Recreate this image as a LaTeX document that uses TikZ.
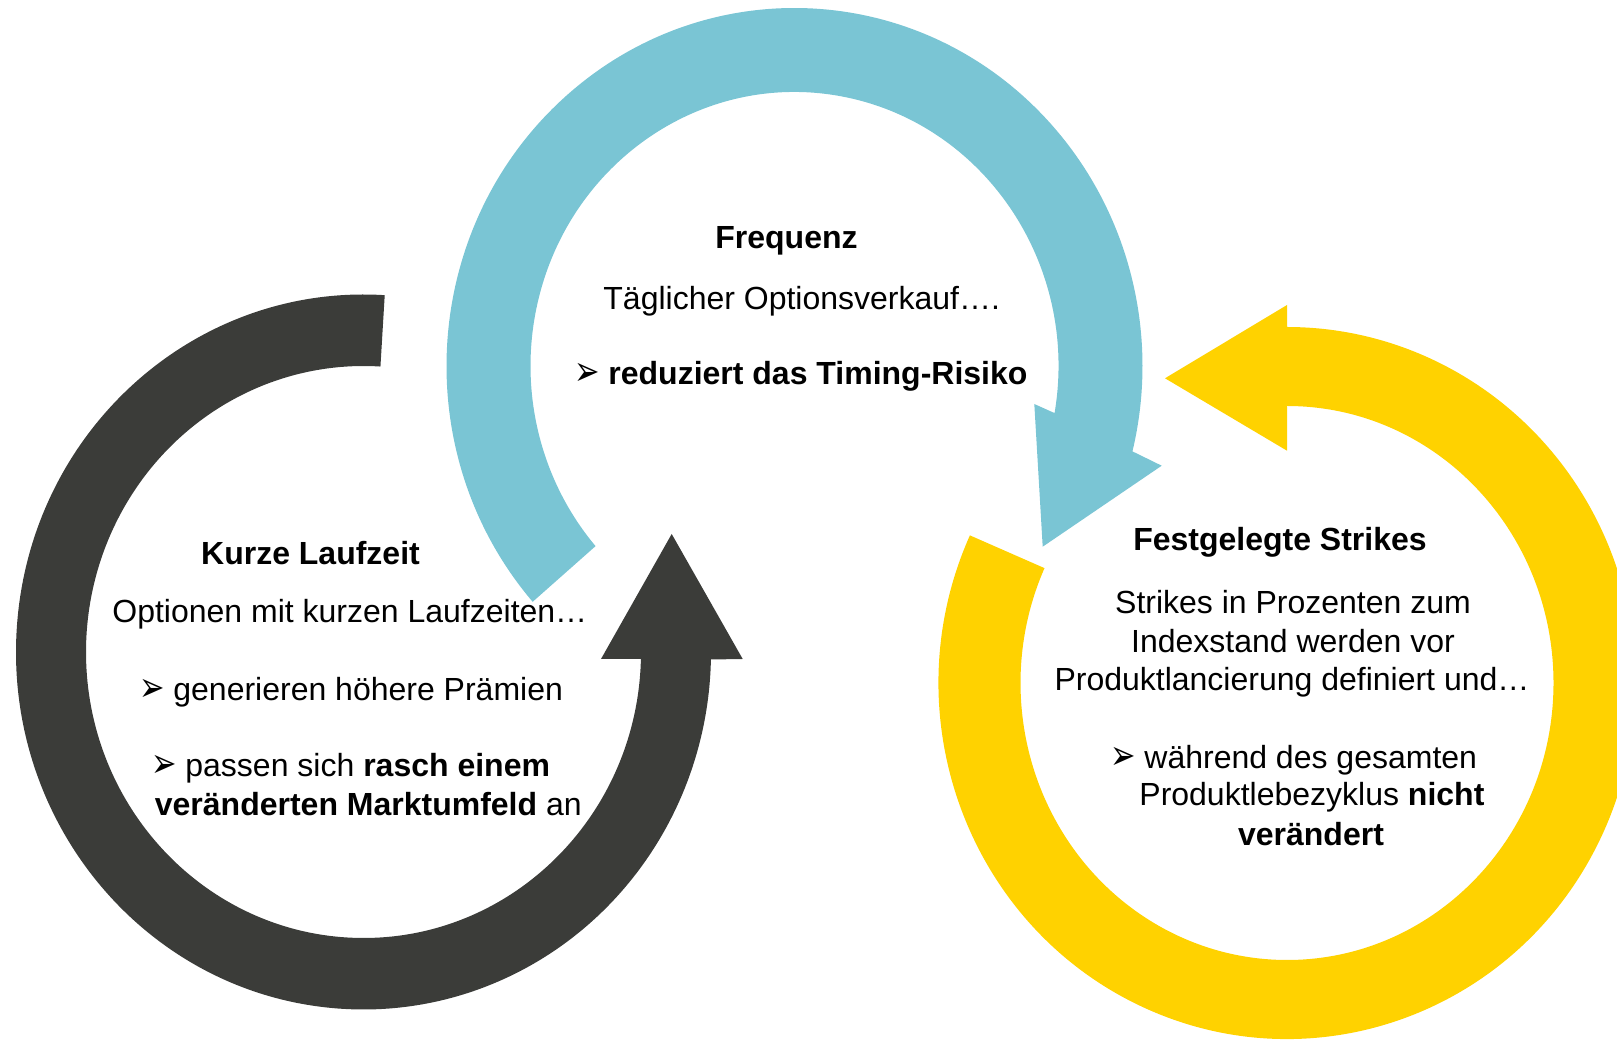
\documentclass[tikz,border=0pt]{standalone}
\usepackage{fontspec}
\setmainfont{Liberation Sans}
\newfontfamily\dejavu{DejaVu Sans}
\definecolor{ringdark}{RGB}{59,60,57}
\definecolor{ringblue}{RGB}{122,197,212}
\definecolor{ringyellow}{RGB}{255,210,0}
\newcommand\blt{\makebox[17pt][l]{\raisebox{-0.3pt}{\scalebox{0.95}[1.3]{\dejavu\char"27A2}}}}
\tikzset{
  txt/.style={inner sep=0pt, font=\fontsize{16pt}{19pt}\selectfont},
}
\begin{document}
\begin{tikzpicture}[x=0.5pt,y=0.5pt]
\useasboundingbox (0,0) rectangle (1617,1039);
\clip (0,0) rectangle (1617,1039);
% dark ring
\begin{scope}[shift={(363.5,387)}]
\fill[ringdark] (86.5:347.5 and 357.5) arc[start angle=86.5,end angle=358.8,x radius=347.5,y radius=357.5]
  -- (379.2,-7) -- (308.2,118) -- (237.5,-7)
  -- (358.6:277.5 and 286) arc[start angle=358.6,end angle=86.5,x radius=277.5,y radius=286] -- cycle;
\end{scope}
% blue ring
\begin{scope}[shift={(794.5,673)}]
\fill[ringblue] (221.2:348 and 358) arc[start angle=221.2,end angle=-13.8,x radius=348,y radius=358]
  -- (367.2,-99.7) -- (248.2,-180.7) -- (239.8,-38)
  -- (-9.9:264 and 274) arc[start angle=-9.9,end angle=221.1,x radius=264,y radius=274] -- cycle;
\end{scope}
% yellow ring
\begin{scope}[shift={(1287,356)}]
\fill[ringyellow] (155.5:348.5 and 356) arc[start angle=155.5,end angle=450,x radius=348.5,y radius=356]
  -- (0,378) -- (-122,304.7) -- (0,232.3)
  -- (90:266.5 and 277) arc[start angle=90,end angle=-204.5,x radius=266.5,y radius=277] -- cycle;
\end{scope}
% texts
\node[txt, anchor=base] (freq) at (786.5,790.5) {\textbf{Frequenz}};
\node[txt, anchor=base west] (tagl) at (603,729.5) {Täglicher Optionsverkauf….};
\node[txt, anchor=base west] (redu) at (574,654.3) {\blt\textbf{reduziert das Timing-Risiko}};
\node[txt, anchor=base] (kurz) at (310.5,474.5) {\textbf{Kurze Laufzeit}};
\node[txt, anchor=base west] (opt) at (112,416) {Optionen mit kurzen Laufzeiten…};
\node[txt, anchor=base west] (gen) at (139,338) {\blt generieren höhere Prämien};
\node[txt, anchor=base west] (pas) at (151,262) {\blt passen sich \textbf{rasch einem}};
\node[txt, anchor=base west] (ver) at (154.5,223.5) {\textbf{veränderten Marktumfeld} an};
\node[txt, anchor=base] (fest) at (1280,488.3) {\textbf{Festgelegte Strikes}};
\node[txt, anchor=base] (str1) at (1293,425.4) {Strikes in Prozenten zum};
\node[txt, anchor=base] (str2) at (1293,386.2) {Indexstand werden vor};
\node[txt, anchor=base] (str3) at (1292,348) {Produktlancierung definiert und…};
\node[txt, anchor=base west] (wah) at (1110,270) {\blt während des gesamten};
\node[txt, anchor=base west] (prod) at (1139,233) {Produktlebezyklus \textbf{nicht}};
\node[txt, anchor=base] (verd) at (1311,193.5) {\textbf{verändert}};
\end{tikzpicture}
\end{document}
